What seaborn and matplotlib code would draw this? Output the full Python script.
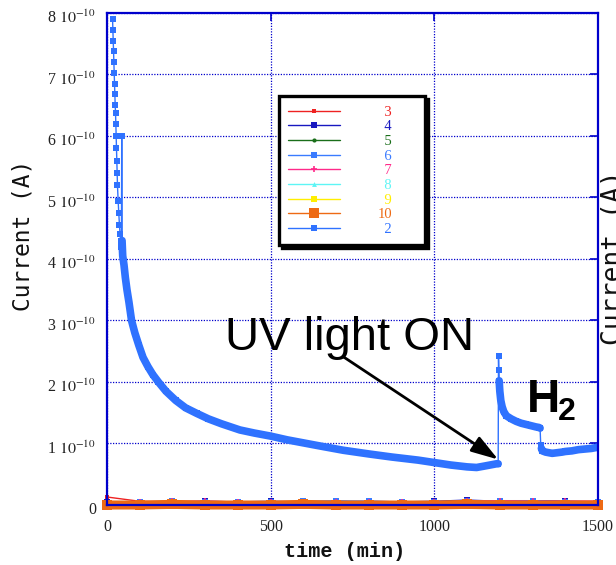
import numpy as np
import pandas as pd
import matplotlib
matplotlib.use("Agg")
import matplotlib.pyplot as plt
import matplotlib.transforms as mtransforms
import seaborn as sns
from matplotlib.ticker import FuncFormatter, MultipleLocator

# Current values are given in units of 1e-10 A
UNIT = 1e-10

# Background samples (runs 3-10) on a common time base (min)
t_bg = [0, 100, 200, 300, 400, 500, 600, 700, 800, 900, 1000, 1100, 1200, 1300, 1400, 1500]
cur_3 = [0.13, 0.06, 0.05, 0.06, 0.05, 0.05, 0.05, 0.05, 0.05, 0.05, 0.05, 0.06, 0.07, 0.07, 0.06, 0.06]
cur_4 = [0.05, 0.05, 0.05, 0.06, 0.05, 0.06, 0.05, 0.05, 0.06, 0.05, 0.06, 0.08, 0.06, 0.07, 0.06, 0.05]
cur_5 = [0.03, 0.04, 0.04, 0.04, 0.04, 0.04, 0.04, 0.04, 0.04, 0.04, 0.04, 0.05, 0.05, 0.05, 0.04, 0.04]
cur_6 = [0.00, 0.05, 0.06, 0.05, 0.05, 0.05, 0.06, 0.07, 0.06, 0.05, 0.05, 0.06, 0.06, 0.07, 0.05, 0.05]
cur_7 = [0.04, 0.05, 0.06, 0.06, 0.05, 0.05, 0.05, 0.05, 0.05, 0.05, 0.05, 0.06, 0.07, 0.06, 0.06, 0.06]
cur_8 = [0.03, 0.04, 0.04, 0.05, 0.04, 0.04, 0.04, 0.04, 0.04, 0.04, 0.04, 0.04, 0.05, 0.05, 0.04, 0.04]
cur_9 = [0.03, 0.03, 0.04, 0.04, 0.03, 0.03, 0.03, 0.03, 0.03, 0.03, 0.03, 0.03, 0.04, 0.04, 0.03, 0.03]
cur_10 = [0.00, 0.00, 0.01, 0.00, 0.00, 0.00, 0.01, 0.00, 0.00, 0.00, 0.00, 0.01, 0.00, 0.00, 0.00, 0.00]

# Run 2: dark decay, UV illumination, then H2 exposure
t2_dark = [17, 18, 19, 20, 21, 22, 23, 24, 25, 26, 27, 28, 29, 30, 31, 32, 34, 36, 38, 40,
           42, 44, 45, 46, 48, 52, 56, 61, 67, 75, 85, 97, 110, 125, 140, 157, 180, 210,
           240, 274, 310, 350, 406, 450, 500, 550, 600, 650, 722, 800, 870, 950, 1000,
           1050, 1100, 1129, 1150, 1170, 1190, 1195]
cur2_dark = [7.90, 7.72, 7.55, 7.38, 7.20, 7.02, 6.85, 6.68, 6.50, 6.38, 6.20, 6.00, 5.80,
             5.60, 5.40, 5.20, 4.95, 4.75, 4.55, 4.40, 4.30, 4.20, 6.00, 4.30, 4.05, 3.90,
             3.70, 3.50, 3.30, 3.00, 2.80, 2.60, 2.40, 2.25, 2.12, 2.00, 1.85, 1.70, 1.58,
             1.49, 1.40, 1.32, 1.22, 1.17, 1.12, 1.06, 1.01, 0.96, 0.89, 0.83, 0.78, 0.73,
             0.69, 0.65, 0.62, 0.61, 0.63, 0.65, 0.67, 0.67]
t2_uv = [1196, 1197, 1198, 1200, 1203, 1207, 1212, 1220, 1235, 1250, 1265, 1280, 1295, 1310, 1320, 1323]
cur2_uv = [2.42, 2.20, 2.02, 1.85, 1.70, 1.60, 1.52, 1.45, 1.40, 1.36, 1.33, 1.31, 1.29, 1.27, 1.26, 1.25]
t2_h2 = [1325, 1327, 1330, 1340, 1350, 1360, 1375, 1390, 1400, 1420, 1440, 1460, 1480, 1500]
cur2_h2 = [0.98, 0.92, 0.88, 0.86, 0.85, 0.84, 0.85, 0.86, 0.87, 0.88, 0.90, 0.91, 0.92, 0.94]

run_labels = ["3", "4", "5", "6", "7", "8", "9", "10", "2"]
run_colors = ["#ee2222", "#1818c0", "#1a6e1a", "#3a7bff", "#ff2a8a",
              "#5ef5f5", "#ffee00", "#ee6a14", "#2f72ff"]
run_markers = ["s", "s", "o", "s", "+", "^", "s", "s", "s"]
run_msizes = [3.5, 4.5, 3.0, 4.5, 5.0, 3.5, 4.5, 7.0, 4.5]

sns.set_theme(style="white")
plt.rcParams["font.family"] = ["Liberation Serif", "DejaVu Serif"]
plt.rcParams["mathtext.fontset"] = "stix"

AXIS_BLUE = "#0000cc"

fig = plt.figure(figsize=(6.16, 5.65), dpi=100)
ax = fig.add_axes([0.1737, 0.1062, 0.7971, 0.8708])

bg_runs = [cur_3, cur_4, cur_5, cur_6, cur_7, cur_8, cur_9, cur_10]
handles = []
for i, vals in enumerate(bg_runs):
    df = pd.DataFrame({"time": t_bg, "current": np.array(vals) * UNIT})
    sns.lineplot(data=df, x="time", y="current", ax=ax, color=run_colors[i],
                 marker=run_markers[i], markersize=run_msizes[i],
                 markeredgecolor=run_colors[i], markeredgewidth=1.2 if run_markers[i] == "+" else 0,
                 linewidth=1.0, estimator=None, sort=False, clip_on=False,
                 label=run_labels[i], legend=False)
    handles.append(ax.lines[-1])

# Orange run 10 forms a broad band along zero
df10 = pd.DataFrame({"time": t_bg, "current": np.array(cur_10) * UNIT})
sns.lineplot(data=df10, x="time", y="current", ax=ax, color=run_colors[7],
             linewidth=6.5, marker="s", markersize=7, markeredgewidth=0,
             estimator=None, sort=False, clip_on=False, legend=False)

# Run 2 full trace (thin connecting line with square markers)
t2_all = t2_dark + t2_uv + t2_h2
cur2_all = cur2_dark + cur2_uv + cur2_h2
df2 = pd.DataFrame({"time": t2_all, "current": np.array(cur2_all) * UNIT})
sns.lineplot(data=df2, x="time", y="current", ax=ax, color=run_colors[8],
             marker="s", markersize=4.5, markeredgecolor=run_colors[8], markeredgewidth=0,
             linewidth=1.0, estimator=None, sort=False, label=run_labels[8], legend=False)
handles.append(ax.lines[-1])

# Densely sampled stretches drawn as a heavy band
for tt, cc, t_from in [(t2_dark, cur2_dark, 46), (t2_uv, cur2_uv, 1198), (t2_h2, cur2_h2, 1326)]:
    seg = pd.DataFrame({"time": tt, "current": np.array(cc) * UNIT})
    seg = seg[seg["time"] >= t_from]
    sns.lineplot(data=seg, x="time", y="current", ax=ax, color=run_colors[8],
                 linewidth=5.5, estimator=None, sort=False, legend=False,
                 solid_capstyle="round", solid_joinstyle="round")

ax.set_xlim(0, 1500)
ax.set_ylim(0, 8e-10)
ax.xaxis.set_major_locator(MultipleLocator(500))
ax.yaxis.set_major_locator(MultipleLocator(1e-10))


def ytick_fmt(v, pos):
    n = int(round(v / UNIT))
    return "0" if n == 0 else rf"{n} $10^{{-10}}$"


ax.yaxis.set_major_formatter(FuncFormatter(ytick_fmt))
ax.xaxis.set_major_formatter(FuncFormatter(lambda v, p: f"{int(v)}"))

ax.grid(True, which="major", color=AXIS_BLUE, linestyle=(0, (1, 1.2)), linewidth=0.9)
ax.set_axisbelow(True)
for sp in ax.spines.values():
    sp.set_color(AXIS_BLUE)
    sp.set_linewidth(1.6)
ax.tick_params(axis="both", direction="in", length=6, width=1.2, color=AXIS_BLUE,
               top=True, right=True, labelsize=11.5, labelcolor="#222222")
ax.tick_params(axis="x", pad=10)
ax.tick_params(axis="y", pad=8)

# Nudge the y tick labels slightly downward so the exponent sits on the tick
shift_down = mtransforms.ScaledTranslation(0, -2.5 / 72, fig.dpi_scale_trans)
for lab in ax.get_yticklabels():
    lab.set_transform(lab.get_transform() + shift_down)

ax.set_xlabel("time (min)", family=["Liberation Mono", "DejaVu Sans Mono"],
              fontweight="bold", fontsize=14.5, color="#111111")
ax.xaxis.set_label_coords(0.483, -0.0955)
ax.xaxis.label.set_va("center")
ax.set_ylabel("Current (A)", family="DejaVu Sans Mono", fontsize=16.5, color="#111111")
ax.yaxis.set_label_coords((23.5 - 107) / 491, (505 - 235) / 492)
ax.yaxis.label.set_va("center")

# Axis title of the neighbouring panel, cut by the figure edge
fig.text(601 / 616, 1 - 258 / 565, "Current (A)", rotation=90, ha="left", va="center",
         family="DejaVu Sans Mono", fontsize=19, color="#111111")

leg_labels = ["\u2007" + l if len(l) == 1 else l for l in run_labels]
leg = ax.legend(handles, leg_labels, loc="upper left",
                bbox_to_anchor=(0.3503, 0.5, 0.2974, 0.3313), bbox_transform=ax.transAxes,
                mode="expand", borderaxespad=0, frameon=True, fancybox=False,
                shadow={"facecolor": "black", "edgecolor": "black", "alpha": 1},
                fontsize=10.5, labelspacing=0.1, handlelength=3.5, handletextpad=2.6,
                borderpad=0.65, numpoints=1, labelcolor="linecolor")
frame = leg.get_frame()
frame.set_edgecolor("black")
frame.set_linewidth(2.4)
frame.set_facecolor("white")
frame.set_alpha(1)

ax.text(360, 2.52e-10, "UV light ON", family="Liberation Sans", fontsize=34,
        ha="left", va="baseline", color="black")
ax.annotate("", xy=(1195, 0.74e-10), xytext=(722, 2.41e-10),
            arrowprops=dict(arrowstyle="-|>,head_length=1.1,head_width=0.35",
                            mutation_scale=15, lw=2, color="black",
                            shrinkA=0, shrinkB=0))
ax.text(1283, 1.51e-10, "H", family="Liberation Sans", fontweight="bold", fontsize=33,
        ha="left", va="baseline", color="black")
ax.text(1378, 1.38e-10, "2", family="Liberation Sans", fontweight="bold", fontsize=23,
        ha="left", va="baseline", color="black")

fig.savefig("out.png", dpi=100)
